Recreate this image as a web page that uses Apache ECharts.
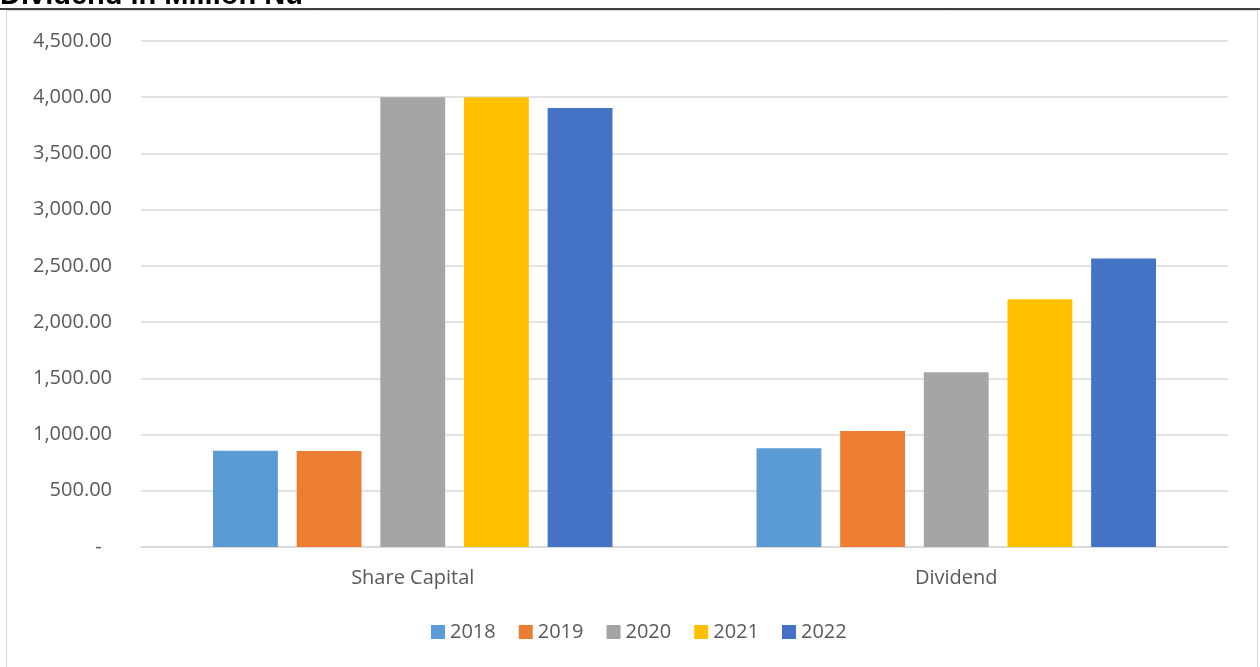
<!DOCTYPE html>
<html>
<head>
    <meta charset="utf-8"/>
    <title>Dividend in Million Nu</title>
    <script src="https://cdn.jsdelivr.net/npm/echarts@6/dist/echarts.min.js"></script>
    <style>
        html, body { margin: 0; padding: 0; background: #fff; }
    </style>
</head>
<body>
<div id="main" style="width: 1260px;height:667px;"></div>

<script type="text/javascript">
    // data
    var categories = ['Share Capital', 'Dividend'];
    var years = ['2018', '2019', '2020', '2021', '2022'];
    var v2018 = [855, 878];
    var v2019 = [853, 1032];
    var v2020 = [4000, 1554];
    var v2021 = [4000, 2203];
    var v2022 = [3905, 2565];
    var colors = ['#5b9bd5', '#ed7d31', '#a5a5a5', '#ffc000', '#4472c4'];

    var font = '"Open Sans", "Noto Sans", sans-serif';
    var seriesValues = [v2018, v2019, v2020, v2021, v2022];

    var series = [];
    for (var i = 0; i < years.length; i++) {
        series.push({
            name: years[i],
            type: 'bar',
            data: seriesValues[i],
            barGap: '29%',
            barCategoryGap: '26.5%',
            itemStyle: { color: colors[i] }
        });
    }

    var myChart = echarts.init(document.getElementById('main'));
    var option = {
        animation: false,
        color: colors,
        graphic: [
            {
                type: 'rect',
                shape: { x: 6.5, y: 10.5, width: 1251, height: 670 },
                style: { fill: 'none', stroke: '#d9d9d9', lineWidth: 1 },
                silent: true
            },
            {
                type: 'line',
                shape: { x1: 0, y1: 9, x2: 1260, y2: 9 },
                style: { stroke: '#000', lineWidth: 1.5 },
                silent: true
            },
            {
                type: 'text',
                left: 0,
                top: -19,
                style: {
                    text: 'Dividend in Million Nu',
                    font: 'bold 29px "Liberation Sans", Arial, sans-serif',
                    fill: '#000'
                },
                silent: true
            }
        ],
        legend: {
            data: years,
            bottom: 20,
            left: 426,
            itemWidth: 14,
            itemHeight: 14,
            itemGap: 23,
            icon: 'rect',
            textStyle: { color: '#595959', fontSize: 20, fontFamily: font }
        },
        grid: { left: 141, right: 32, top: 41, bottom: 120 },
        xAxis: {
            type: 'category',
            data: categories,
            axisTick: { show: false },
            axisLine: { lineStyle: { color: '#d9d9d9', width: 1.5 } },
            axisLabel: { color: '#595959', fontSize: 20, fontFamily: font, margin: 21 }
        },
        yAxis: {
            type: 'value',
            min: 0,
            max: 4500,
            interval: 500,
            axisLine: { show: false },
            axisTick: { show: false },
            splitLine: { lineStyle: { color: '#d9d9d9', width: 1.5 } },
            axisLabel: {
                color: '#595959',
                fontSize: 20,
                fontFamily: font,
                margin: 29,
                formatter: function (v) {
                    if (v === 0) return '-  ';
                    return v.toLocaleString('en-US', { minimumFractionDigits: 2, maximumFractionDigits: 2 });
                }
            }
        },
        series: series
    };
    myChart.setOption(option);
</script>
</body>
</html>
